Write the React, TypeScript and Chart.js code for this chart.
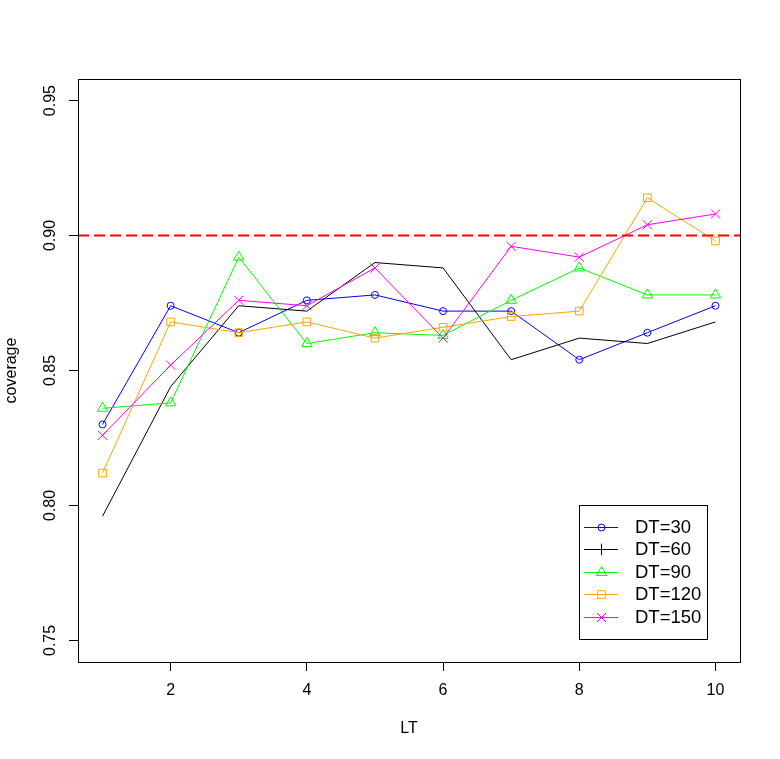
import { useEffect, useRef } from 'react';
import { Chart, registerables } from 'chart.js';
import { drawPoint } from 'chart.js/helpers';

Chart.register(...registerables);

// ---- data ----
const lt = [1, 2, 3, 4, 5, 6, 7, 8, 9, 10];
const dt30 = [0.830, 0.874, 0.864, 0.876, 0.878, 0.872, 0.872, 0.854, 0.864, 0.874];
const dt60 = [0.796, 0.844, 0.874, 0.872, 0.890, 0.888, 0.854, 0.862, 0.860, 0.868];
const dt90 = [0.836, 0.838, 0.892, 0.860, 0.864, 0.863, 0.876, 0.888, 0.878, 0.878];
const dt120 = [0.812, 0.868, 0.864, 0.868, 0.862, 0.866, 0.870, 0.872, 0.914, 0.898];
const dt150 = [0.826, 0.852, 0.876, 0.874, 0.888, 0.862, 0.896, 0.892, 0.904, 0.908];
const seriesLabels = ['DT=30', 'DT=60', 'DT=90', 'DT=120', 'DT=150'];
const xTicks = [2, 4, 6, 8, 10];
const yTicks = [0.75, 0.8, 0.85, 0.9, 0.95];
const targetCoverage = 0.9;
const legendAnchor = { x: 8, y: 0.8 };

const FONT = "'Liberation Sans', Arial, sans-serif";

const seriesValues = [dt30, dt60, dt90, dt120, dt150];
const seriesColors = ['#0000FF', '#000000', '#00FF00', '#FFA500', '#FF00FF'];
const seriesStyles = ['circle', 'cross', 'triangle', 'rect', 'crossRot'];
const seriesRadii = [3.5, 5.8, 6, 5.4, 6.4];
const seriesShowPoints = [true, false, true, true, true];

const framePlugin = {
  id: 'rFrame',
  afterDatasetsDraw(chart: any) {
    const { ctx, chartArea: a } = chart;
    ctx.save();
    ctx.strokeStyle = '#000';
    ctx.lineWidth = 1;
    ctx.strokeRect(Math.round(a.left) + 0.5, Math.round(a.top) + 0.5, Math.round(a.right - a.left), Math.round(a.bottom - a.top));
    ctx.restore();
  },
};

const legendPlugin = {
  id: 'rLegend',
  afterDatasetsDraw(chart: any) {
    const { ctx, scales } = chart;
    const left = Math.round(scales.x.getPixelForValue(legendAnchor.x));
    const top = Math.round(scales.y.getPixelForValue(legendAnchor.y));
    const w = 128;
    const h = 134;
    ctx.save();
    ctx.fillStyle = '#ffffff';
    ctx.fillRect(left, top, w, h);
    ctx.strokeStyle = '#000';
    ctx.lineWidth = 1;
    ctx.strokeRect(left + 0.5, top + 0.5, w, h);
    const entries = chart.data.datasets.filter((d: any) => d.rLegend);
    entries.forEach((d: any, i: number) => {
      const y = Math.round(top + 22 + i * 22.4) + 0.5;
      ctx.strokeStyle = d.borderColor;
      ctx.lineWidth = 1;
      ctx.setLineDash([]);
      ctx.beginPath();
      ctx.moveTo(left + 5, y);
      ctx.lineTo(left + 39, y);
      ctx.stroke();
      ctx.fillStyle = 'rgba(0,0,0,0)';
      ctx.strokeStyle = d.borderColor;
      drawPoint(ctx, { pointStyle: d.rLegend.style, radius: d.rLegend.radius, rotation: 0, borderWidth: 1 } as any, left + 22.5, y);
      ctx.fillStyle = '#000';
      ctx.font = `18.5px ${FONT}`;
      ctx.textBaseline = 'middle';
      ctx.textAlign = 'left';
      ctx.fillText(d.label, left + 56, y);
    });
    ctx.restore();
  },
};

export default function App() {
  const ref = useRef<HTMLCanvasElement | null>(null);

  useEffect(() => {
    if (!ref.current) return;
    const datasets: any[] = seriesValues.map((vals, i) => ({
      label: seriesLabels[i],
      data: lt.map((x, j) => ({ x, y: vals[j] })),
      borderColor: seriesColors[i],
      backgroundColor: 'rgba(0,0,0,0)',
      borderWidth: 1,
      pointStyle: seriesStyles[i],
      pointRadius: seriesShowPoints[i] ? seriesRadii[i] : 0,
      pointHoverRadius: seriesShowPoints[i] ? seriesRadii[i] : 0,
      pointBorderColor: seriesColors[i],
      pointBackgroundColor: 'rgba(0,0,0,0)',
      pointBorderWidth: 1,
      tension: 0,
      order: seriesValues.length - i,
      rLegend: { style: seriesStyles[i], radius: seriesRadii[i] },
    }));
    datasets.push({
      label: 'target',
      data: [
        { x: 0.64, y: targetCoverage },
        { x: 10.36, y: targetCoverage },
      ],
      borderColor: '#FF0000',
      borderWidth: 2,
      borderDash: [11, 5],
      pointRadius: 0,
      pointHoverRadius: 0,
      order: 0,
    });

    const chart = new Chart(ref.current, {
      type: 'line',
      data: { datasets },
      options: {
        animation: false,
        responsive: false,
        devicePixelRatio: 1,
        layout: { padding: { left: 0, top: 79, right: 40, bottom: 0 } },
        plugins: { legend: { display: false }, tooltip: { enabled: false } },
        events: [],
        scales: {
          x: {
            type: 'linear',
            min: 0.64,
            max: 10.36,
            afterBuildTicks: (s: any) => {
              s.ticks = xTicks.map((v) => ({ value: v }));
            },
            afterFit: (s: any) => {
              s.height = 97;
            },
            grid: { display: true, drawOnChartArea: false, drawTicks: true, tickLength: 9, color: '#000', lineWidth: 1 },
            border: { display: false },
            ticks: {
              color: '#000',
              font: { family: FONT, size: 16 },
              padding: 10,
              maxRotation: 0,
              autoSkip: false,
              callback: (v: any) => String(v),
            },
            title: {
              display: true,
              text: 'LT',
              color: '#000',
              font: { family: FONT, size: 16 },
              padding: { top: 0, bottom: 20.4 },
            },
          },
          y: {
            type: 'linear',
            min: 0.742,
            max: 0.958,
            afterBuildTicks: (s: any) => {
              s.ticks = yTicks.map((v) => ({ value: v }));
            },
            afterFit: (s: any) => {
              s.width = 78;
            },
            grid: { display: true, drawOnChartArea: false, drawTicks: true, tickLength: 9, color: '#000', lineWidth: 1 },
            border: { display: false },
            ticks: {
              color: '#000',
              font: { family: FONT, size: 16 },
              padding: 3,
              minRotation: 90,
              maxRotation: 90,
              crossAlign: 'center',
              autoSkip: false,
              callback: (v: any) => Number(v).toFixed(2),
            },
            title: {
              display: true,
              text: 'coverage',
              color: '#000',
              font: { family: FONT, size: 16 },
              padding: { top: 2, bottom: 0 },
            },
          },
        },
      },
      plugins: [framePlugin, legendPlugin],
    } as any);

    return () => chart.destroy();
  }, []);

  return (
    <div style={{ position: 'fixed', left: 0, top: 0, width: 780, height: 759, background: '#fff' }}>
      <canvas ref={ref} width={780} height={759} style={{ display: 'block', width: 780, height: 759 }} />
    </div>
  );
}
